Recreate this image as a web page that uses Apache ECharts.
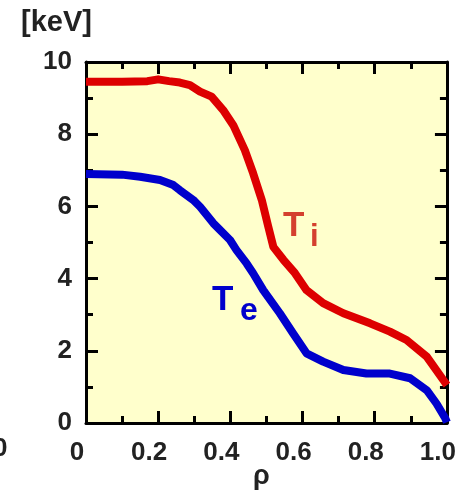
<!DOCTYPE html>
<html><head><meta charset="utf-8">
<script src="https://cdn.jsdelivr.net/npm/echarts@6/dist/echarts.min.js"></script>
<style>html,body{margin:0;padding:0;background:#fff}#c{width:459px;height:491px}</style>
</head><body><div id="c"></div>
<script>
const tiRho = [0, 0.1, 0.17, 0.2, 0.23, 0.26, 0.288, 0.316, 0.348, 0.38, 0.408, 0.44, 0.463, 0.487, 0.505, 0.519, 0.547, 0.579, 0.611, 0.657, 0.713, 0.787, 0.842, 0.888, 0.944, 0.99, 1.0];
const tiVal = [9.45, 9.45, 9.47, 9.52, 9.47, 9.43, 9.36, 9.18, 9.04, 8.67, 8.25, 7.56, 6.92, 6.18, 5.44, 4.88, 4.52, 4.15, 3.68, 3.32, 3.04, 2.76, 2.53, 2.30, 1.84, 1.19, 1.05];
const teRho = [0, 0.1, 0.15, 0.205, 0.242, 0.26, 0.297, 0.316, 0.353, 0.371, 0.399, 0.417, 0.445, 0.463, 0.491, 0.537, 0.574, 0.611, 0.657, 0.713, 0.777, 0.842, 0.898, 0.944, 0.971, 0.995, 1.0];
const teVal = [6.9, 6.88, 6.82, 6.73, 6.59, 6.45, 6.18, 5.99, 5.53, 5.35, 5.07, 4.79, 4.42, 4.15, 3.68, 3.04, 2.48, 1.93, 1.70, 1.47, 1.37, 1.37, 1.24, 0.91, 0.54, 0.14, 0.02];
const xTicks = ['0', '0.2', '0.4', '0.6', '0.8', '1.0'];
const yTicks = ['0', '2', '4', '6', '8', '10'];

const font = 'Liberation Sans, Arial, sans-serif';
const axisCommon = {
  axisLine: {show: true, onZero: false, lineStyle: {color: '#000', width: 3}},
  axisTick: {show: true, inside: true, length: 12, lineStyle: {color: '#000', width: 3}},
  minorTick: {show: true, splitNumber: 2, length: 7, lineStyle: {color: '#000', width: 3}},
  splitLine: {show: false}
};
const chart = echarts.init(document.getElementById('c'));
chart.setOption({
  animation: false,
  grid: {left: 86, top: 62, width: 361, height: 361, show: true, backgroundColor: '#ffffcc', borderWidth: 0},
  xAxis: [
    Object.assign({type: 'value', min: 0, max: 1, interval: 0.2, position: 'bottom',
      axisLabel: {fontFamily: font, fontWeight: 'bold', fontSize: 26, color: '#222', margin: 17, padding: [0, 18, 0, 0],
        formatter: v => xTicks[Math.round(v / 0.2)]}}, axisCommon),
    Object.assign({type: 'value', min: 0, max: 1, interval: 0.2, position: 'top', axisLabel: {show: false}}, axisCommon)
  ],
  yAxis: [
    Object.assign({type: 'value', min: 0, max: 10, interval: 2, position: 'left',
      axisLabel: {fontFamily: font, fontWeight: 'bold', fontSize: 26, color: '#222', margin: 14,
        formatter: v => yTicks[Math.round(v / 2)]}}, axisCommon),
    Object.assign({type: 'value', min: 0, max: 10, interval: 2, position: 'right', axisLabel: {show: false}}, axisCommon)
  ],
  series: [
    {type: 'line', data: tiRho.map((r, i) => [r, tiVal[i]]), showSymbol: false, lineStyle: {color: '#dd0000', width: 8, join: 'round'}, z: 3},
    {type: 'line', data: teRho.map((r, i) => [r, teVal[i]]), showSymbol: false, lineStyle: {color: '#0000cc', width: 8, join: 'round'}, z: 3}
  ],
  graphic: [
    {type: 'text', left: 21, top: 8, style: {text: '[keV]', font: 'bold 29px ' + font, fill: '#222'}},
    {type: 'text', x: 253, y: 463, style: {text: 'ρ', font: 'bold 27px ' + font, fill: '#222'}},
    {type: 'text', x: -7, y: 436, style: {text: '0', font: 'bold 26px ' + font, fill: '#222'}},
    {type: 'text', x: 283, y: 209, z: 10, style: {text: 'T', font: 'bold 35px ' + font, fill: '#d4402f'}},
    {type: 'text', x: 310, y: 222, z: 10, style: {text: 'i', font: 'bold 31px ' + font, fill: '#d4402f'}},
    {type: 'text', x: 212, y: 283, z: 10, style: {text: 'T', font: 'bold 35px ' + font, fill: '#0000cc'}},
    {type: 'text', x: 240, y: 295, z: 10, style: {text: 'e', font: 'bold 32px ' + font, fill: '#0000cc'}}
  ]
});
</script></body></html>
